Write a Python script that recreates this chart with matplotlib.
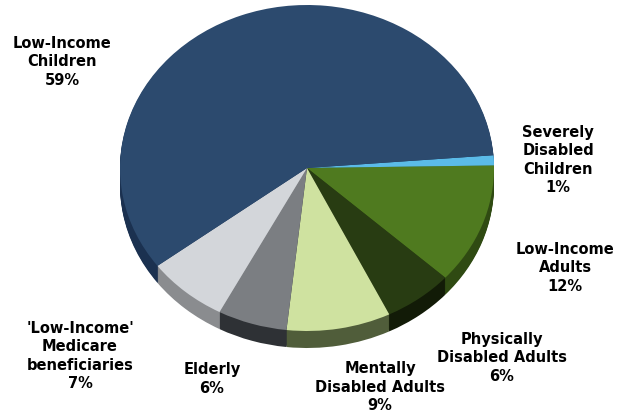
import matplotlib.pyplot as plt

# slices in clockwise order, starting just above 3 o'clock
names = [
    "Severely\nDisabled\nChildren",
    "Low-Income\nAdults",
    "Physically\nDisabled Adults",
    "Mentally\nDisabled Adults",
    "Elderly",
    "'Low-Income'\nMedicare\nbeneficiaries",
    "Low-Income\nChildren",
]
shares = [1, 12, 6, 9, 6, 7, 59]

top_colors = ["#5bbbe8", "#4f7a1f", "#283c12", "#cfe2a0", "#7b7e82", "#d3d6da", "#2c4a6e"]
side_colors = ["#3a8cb5", "#2f4a12", "#121b07", "#505d3a", "#2e3135", "#8a8c8f", "#1b3150"]

# label centres in pixels (x, y from top)
label_xy = [(558, 160), (565, 268), (502, 358), (380, 387), (212, 379), (80, 356), (62, 62)]

W, H = 618, 417
CX, CY = 307, 168      # ellipse centre, pixels
RX, RY = 187, 163      # ellipse radii, pixels
DEPTH = 17
K = RX / RY            # vertical squash


def ydata(py):
    return (H - py) * K


fig = plt.figure(figsize=(W / 100, H / 100), dpi=100)
ax = fig.add_axes([0, 0, 1, 1])

# side of the pie: stack of darker copies shifted down
for d in range(DEPTH, 0, -1):
    ax.pie(shares, colors=side_colors, startangle=4.5, counterclock=False,
           radius=RX, center=(CX, ydata(CY + d)), wedgeprops=dict(linewidth=0))

ax.pie(shares, colors=top_colors, startangle=4.5, counterclock=False,
       radius=RX, center=(CX, ydata(CY)), wedgeprops=dict(linewidth=0))

for name, pct, (px, py) in zip(names, shares, label_xy):
    ax.text(px, ydata(py), f"{name}\n{pct}%", ha="center", va="center",
            fontsize=10.5, fontweight="bold", linespacing=1.3, color="black")

ax.set_aspect("auto")
ax.set_xlim(0, W)
ax.set_ylim(0, H * K)
ax.axis("off")

fig.savefig("out.png", dpi=100, facecolor="white")
